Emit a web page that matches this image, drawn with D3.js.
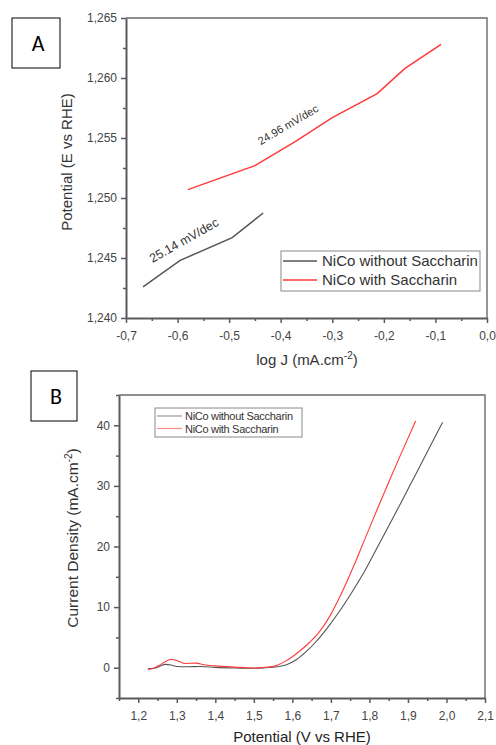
<!DOCTYPE html>
<html lang="en">
<head>
  <meta charset="UTF-8">
  <title>NiCo Tafel and LSV</title>
  <script src="https://d3js.org/d3.v7.min.js"></script>
  <style>
    body { margin: 0; background: #fff; }
    svg text { font-family: Arial, "Liberation Sans", sans-serif; fill: #333; }
    .tick text { font-size: 12px; fill: #444; }
  </style>
</head>
<body>
<svg id="chart" width="496" height="745"></svg>
<script>
  // ---- panel A: Tafel plot ----
  const tafelNoSacX = [-0.667, -0.595, -0.494, -0.434];
  const tafelNoSacY = [1.2426, 1.2448, 1.2467, 1.24875];
  const tafelSacX = [-0.580, -0.450, -0.372, -0.300, -0.213, -0.159, -0.089];
  const tafelSacY = [1.2507, 1.2527, 1.2547, 1.2567, 1.2587, 1.2608, 1.2628];
  const tafelXTicks = [-0.7, -0.6, -0.5, -0.4, -0.3, -0.2, -0.1, 0.0];
  const tafelYTicks = [1.240, 1.245, 1.250, 1.255, 1.260, 1.265];
  const slopeLabels = ["25.14 mV/dec", "24.96 mV/dec"];

  // ---- panel B: polarisation curves ----
  const lsvNoSacX = [1.225, 1.24, 1.255, 1.27, 1.285, 1.30, 1.33, 1.36, 1.40, 1.45, 1.50, 1.53, 1.56, 1.585, 1.61, 1.635, 1.66, 1.69, 1.72, 1.755, 1.79, 1.82, 1.85, 1.885, 1.92, 1.955, 1.99];
  const lsvNoSacY = [-0.2, -0.1, 0.2, 0.55, 0.45, 0.2, 0.15, 0.2, 0.05, -0.05, -0.1, 0, 0.15, 0.5, 1.3, 2.6, 4.2, 6.5, 9.1, 12.5, 16.2, 19.8, 23.4, 27.6, 31.9, 36.2, 40.5];
  const lsvSacX = [1.225, 1.24, 1.255, 1.27, 1.285, 1.30, 1.32, 1.35, 1.37, 1.40, 1.45, 1.50, 1.53, 1.56, 1.58, 1.60, 1.62, 1.645, 1.67, 1.70, 1.73, 1.76, 1.79, 1.82, 1.85, 1.88, 1.92];
  const lsvSacY = [-0.3, -0.1, 0.4, 1.0, 1.4, 1.2, 0.7, 0.75, 0.5, 0.3, 0.1, -0.05, 0.05, 0.4, 1.0, 1.8, 2.8, 4.2, 5.9, 8.8, 12.6, 16.9, 21.5, 26.1, 30.6, 35.0, 40.7];
  const lsvXTicks = [1.2, 1.3, 1.4, 1.5, 1.6, 1.7, 1.8, 1.9, 2.0, 2.1];
  const lsvYTicks = [0, 10, 20, 30, 40];

  const seriesNames = ["NiCo without Saccharin", "NiCo with Saccharin"];
  const colors = ["#555", "#ff3a3a"];

  const loc = d3.formatLocale({ decimal: ",", thousands: ".", grouping: [3], currency: ["", ""], minus: "-" });
  const svg = d3.select("#chart");

  function zip(xs, ys) { return xs.map((x, i) => [x, ys[i]]); }

  function drawFrame(x, y, xTicks, yTicks, xMinor, yMinor, xFmt, yFmt) {
    const [x0, x1] = x.range(), [y0, y1] = y.range();
    // top + right border
    svg.append("path").attr("d", `M${x0},${y1}H${x1}V${y0}`)
      .attr("fill", "none").attr("stroke", "#6a6a6a").attr("stroke-width", 1.4);
    const gx = svg.append("g").attr("class", "axis").attr("transform", `translate(0,${y0})`)
      .call(d3.axisBottom(x).tickValues(xTicks).tickSize(5).tickSizeOuter(0).tickFormat(xFmt));
    gx.append("g").call(d3.axisBottom(x).tickValues(xMinor).tickSize(3).tickSizeOuter(0).tickFormat(""))
      .select(".domain").remove();
    const gy = svg.append("g").attr("class", "axis").attr("transform", `translate(${x0},0)`)
      .call(d3.axisLeft(y).tickValues(yTicks).tickSize(5).tickSizeOuter(0).tickFormat(yFmt));
    gy.append("g").call(d3.axisLeft(y).tickValues(yMinor).tickSize(3).tickSizeOuter(0).tickFormat(""))
      .select(".domain").remove();
    [gx, gy].forEach(g => {
      g.selectAll(".domain").attr("stroke", "#5a5a5a").attr("stroke-width", 2);
      g.selectAll(".tick line").attr("stroke", "#5a5a5a").attr("stroke-width", 1.5);
    });
    return [gx, gy];
  }

  function labelBox(x, y, w, h, txt) {
    svg.append("rect").attr("x", x).attr("y", y).attr("width", w).attr("height", h)
      .attr("fill", "#fff").attr("stroke", "#000").attr("stroke-width", 1);
    svg.append("text").attr("x", x + w / 2 + 2).attr("y", y + h / 2 + 8)
      .attr("text-anchor", "middle").style("font-size", "22px").style("fill", "#000")
      .style("font-family", "Calibri, Carlito, Arial, sans-serif").text(txt);
  }

  // ===== Panel A =====
  const xA = d3.scaleLinear().domain([-0.7, 0]).range([126, 487]);
  const yA = d3.scaleLinear().domain([1.240, 1.265]).range([318, 18]);
  const [gxA, gyA] = drawFrame(xA, yA, tafelXTicks,
    tafelYTicks, d3.range(-0.65, 0, 0.1), d3.range(1.2425, 1.265, 0.005),
    loc.format(".1f"), loc.format(".3f"));
  gxA.selectAll(".tick text").attr("dy", "1.15em");
  gyA.selectAll(".tick text").attr("dx", "-1");

  const lineA = d3.line().x(d => xA(d[0])).y(d => yA(d[1]));
  svg.append("path").datum(zip(tafelNoSacX, tafelNoSacY)).attr("d", lineA)
    .attr("fill", "none").attr("stroke", colors[0]).attr("stroke-width", 1.5);
  svg.append("path").datum(zip(tafelSacX, tafelSacY)).attr("d", lineA)
    .attr("fill", "none").attr("stroke", colors[1]).attr("stroke-width", 1.5);

  svg.append("text").attr("transform", "translate(186,244) rotate(-29.5)")
    .attr("text-anchor", "middle").style("font-size", "12.5px").text(slopeLabels[0]);
  svg.append("text").attr("transform", "translate(290,128) rotate(-30.5)")
    .attr("text-anchor", "middle").style("font-size", "11px").text(slopeLabels[1]);

  // axis titles A
  svg.append("text").attr("transform", "translate(72,162) rotate(-90)")
    .attr("text-anchor", "middle").style("font-size", "15px")
    .text("Potential (E vs RHE)");
  const xtA = svg.append("text").attr("x", 307).attr("y", 365)
    .attr("text-anchor", "middle").style("font-size", "15px");
  xtA.append("tspan").text("log J (mA.cm");
  xtA.append("tspan").attr("dy", -6).style("font-size", "10px").text("-2");
  xtA.append("tspan").attr("dy", 6).text(")");

  // legend A
  const legA = svg.append("g").attr("transform", "translate(281,251)");
  legA.append("rect").attr("width", 199).attr("height", 40)
    .attr("fill", "#fff").attr("stroke", "#888").attr("stroke-width", 1);
  seriesNames.forEach((n, i) => {
    const yy = 10 + i * 19;
    legA.append("line").attr("x1", 2).attr("x2", 36).attr("y1", yy).attr("y2", yy)
      .attr("stroke", colors[i]).attr("stroke-width", 1.5);
    legA.append("text").attr("x", 41).attr("y", yy + 5).style("font-size", "15px").text(n);
  });

  labelBox(12, 18, 48, 50, "A");

  // ===== Panel B =====
  const xB = d3.scaleLinear().domain([1.15, 2.1]).range([119, 485]);
  const yB = d3.scaleLinear().domain([-5, 45]).range([698, 395]);
  const [gxB, gyB] = drawFrame(xB, yB, lsvXTicks, lsvYTicks,
    d3.range(1.15, 2.1, 0.1), d3.range(-5, 46, 10),
    loc.format(".1f"), d3.format("d"));
  gxB.selectAll(".tick text").attr("dy", "1.2em");
  gyB.selectAll(".tick text").attr("dx", "-1");

  const lineB = d3.line().x(d => xB(d[0])).y(d => yB(d[1])).curve(d3.curveMonotoneX);
  svg.append("path").datum(zip(lsvNoSacX, lsvNoSacY)).attr("d", lineB)
    .attr("fill", "none").attr("stroke", colors[0]).attr("stroke-width", 1.1);
  svg.append("path").datum(zip(lsvSacX, lsvSacY)).attr("d", lineB)
    .attr("fill", "none").attr("stroke", colors[1]).attr("stroke-width", 1.1);

  // axis titles B
  const ytB = svg.append("text").attr("transform", "translate(78,538) rotate(-90)")
    .attr("text-anchor", "middle").style("font-size", "15.5px");
  ytB.append("tspan").text("Current Density (mA.cm");
  ytB.append("tspan").attr("dy", -6).style("font-size", "10px").text("-2");
  ytB.append("tspan").attr("dy", 6).text(")");
  svg.append("text").attr("x", 302).attr("y", 742).attr("text-anchor", "middle")
    .style("font-size", "15px").style("fill", "#222").text("Potential (V vs RHE)");

  // legend B
  const legB = svg.append("g").attr("transform", "translate(155,408)");
  legB.append("rect").attr("width", 147).attr("height", 29)
    .attr("fill", "#fff").attr("stroke", "#888").attr("stroke-width", 1);
  const legBColors = ["#999", "#ff8a8a"];
  seriesNames.forEach((n, i) => {
    const yy = 8 + i * 12.5;
    legB.append("line").attr("x1", 2).attr("x2", 27).attr("y1", yy).attr("y2", yy)
      .attr("stroke", legBColors[i]).attr("stroke-width", 1.2);
    legB.append("text").attr("x", 30).attr("y", yy + 4).style("font-size", "11px")
      .style("letter-spacing", "-0.3px").text(n);
  });

  labelBox(31, 371, 46, 50, "B");
</script>
</body>
</html>
